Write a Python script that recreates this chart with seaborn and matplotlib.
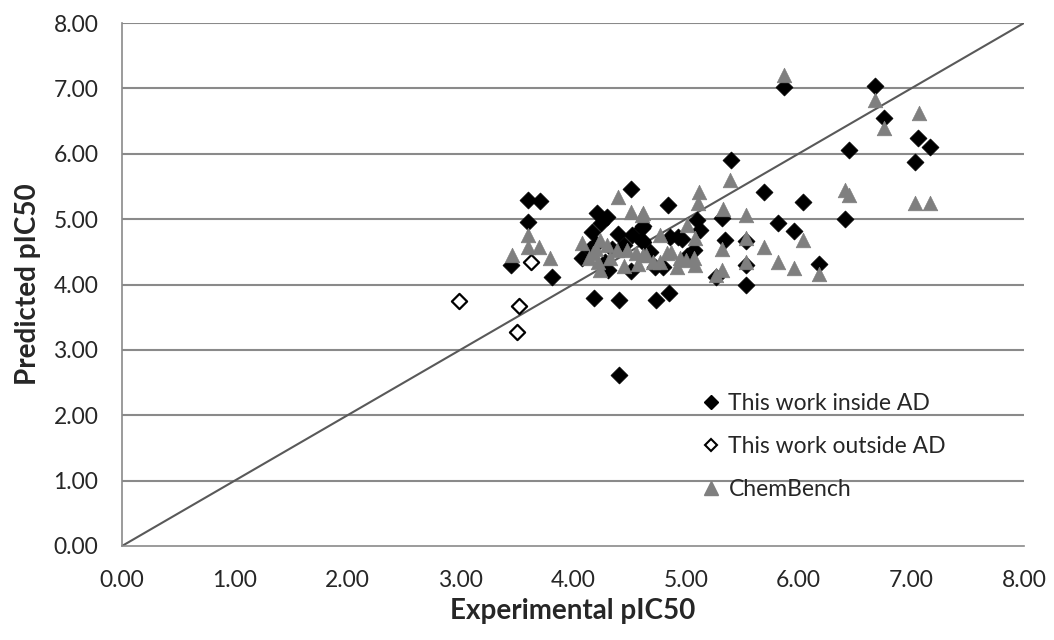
import matplotlib
matplotlib.use("Agg")
import matplotlib.pyplot as plt
import seaborn as sns
import pandas as pd
from matplotlib.lines import Line2D

# ---- data ----
inside_x = [3.45, 3.60, 3.71, 3.60, 3.81, 4.41, 4.19, 4.41, 4.74, 4.85,
            4.21, 4.30, 4.51, 4.17, 4.08, 4.40, 4.52, 4.61, 4.51, 4.31,
            4.25, 4.62, 4.84, 5.69, 5.82, 5.10, 5.13, 4.93, 4.86, 5.32,
            5.35, 5.53, 5.53, 5.53, 5.27, 5.01, 5.07, 4.62, 4.61, 4.73,
            4.80, 5.40, 5.87, 6.68, 6.76, 7.06, 7.17, 7.03, 6.45, 6.41,
            6.04, 5.96, 6.18, 4.20, 4.35, 4.45, 4.68, 4.97, 4.28, 4.15]
inside_y = [4.30, 5.30, 5.28, 4.96, 4.11, 2.62, 3.79, 3.76, 3.76, 3.87,
            5.09, 5.04, 5.46, 4.81, 4.40, 4.78, 4.76, 4.86, 4.20, 4.22,
            4.94, 4.65, 5.22, 5.42, 4.94, 4.99, 4.83, 4.73, 4.73, 5.01,
            4.68, 3.99, 4.66, 4.30, 4.12, 4.43, 4.53, 4.89, 4.68, 4.27,
            4.27, 5.91, 7.02, 7.04, 6.55, 6.24, 6.11, 5.87, 6.05, 5.00,
            5.26, 4.82, 4.31, 4.62, 4.55, 4.60, 4.50, 4.70, 4.35, 4.55]

outside_x = [2.99, 3.52, 3.50, 3.63]
outside_y = [3.75, 3.67, 3.28, 4.35]

chem_x = [3.46, 3.60, 3.60, 3.70, 3.80, 4.40, 4.51, 4.61, 4.08, 4.24,
          4.18, 4.24, 4.39, 4.48, 4.56, 4.33, 4.14, 4.65, 5.12, 5.11,
          5.39, 5.33, 5.53, 4.62, 4.77, 5.01, 5.08, 5.32, 5.53, 5.69,
          5.53, 5.32, 5.27, 5.82, 5.07, 5.08, 4.92, 4.83, 4.71, 4.87,
          4.62, 4.77, 5.87, 6.68, 6.76, 7.07, 6.41, 6.45, 7.03, 7.17,
          6.04, 5.96, 6.18, 4.22, 4.30, 4.95, 4.45, 4.20, 4.58, 5.00]
chem_y = [4.45, 4.75, 4.58, 4.58, 4.40, 5.34, 5.11, 5.06, 4.63, 4.68,
          4.48, 4.22, 4.53, 4.53, 4.48, 4.40, 4.40, 4.45, 5.42, 5.24,
          5.60, 5.16, 5.06, 5.09, 4.76, 4.91, 4.71, 4.55, 4.71, 4.58,
          4.35, 4.22, 4.15, 4.35, 4.40, 4.30, 4.27, 4.48, 4.35, 4.50,
          4.45, 4.35, 7.20, 6.82, 6.40, 6.62, 5.45, 5.37, 5.24, 5.25,
          4.68, 4.26, 4.16, 4.35, 4.60, 4.40, 4.28, 4.55, 4.32, 4.38]

labels = ["This work inside AD", "This work outside AD", "ChemBench"]
ticks = [0, 1, 2, 3, 4, 5, 6, 7, 8]

# ---- plot ----
sns.set_style("white")
plt.rcParams['font.family'] = ['Lato', 'DejaVu Sans']

fig = plt.figure(figsize=(10.54, 6.4), dpi=100)
ax = fig.add_axes([122/1054, 1-546/640, (1024-122)/1054, (546-23)/640])

for t in ticks[1:]:
    ax.axhline(t, color='#8a8a8a', lw=1.5, zorder=0)
ax.plot([0, 8], [0, 8], color='#595959', lw=1.5, zorder=1)

df_in = pd.DataFrame({"x": inside_x, "y": inside_y})
df_out = pd.DataFrame({"x": outside_x, "y": outside_y})
df_ch = pd.DataFrame({"x": chem_x, "y": chem_y})

sns.scatterplot(data=df_in, x="x", y="y", marker='D', s=75, color='black',
                edgecolor='black', linewidth=0.5, ax=ax, zorder=3)
sns.scatterplot(data=df_out, x="x", y="y", marker='D', s=60, color='white',
                edgecolor='black', linewidth=1.6, ax=ax, zorder=3)
sns.scatterplot(data=df_ch, x="x", y="y", marker='^', s=110, color='#7f7f7f',
                edgecolor='#7f7f7f', linewidth=0.5, ax=ax, zorder=4)

ax.set_xlim(0, 8)
ax.set_ylim(0, 8)
ax.set_xticks(ticks)
ax.set_yticks(ticks)
ax.set_xticklabels([f"{t:.2f}" for t in ticks], fontsize=16.5)
ax.set_yticklabels([f"{t:.2f}" for t in ticks], fontsize=16.5)
ax.set_xlabel("Experimental pIC50", fontsize=20, fontweight='bold', labelpad=5)
ax.set_ylabel("Predicted pIC50", fontsize=20, fontweight='bold', labelpad=9)

for side in ['top', 'right']:
    ax.spines[side].set_visible(False)
for side in ['left', 'bottom']:
    ax.spines[side].set_color('#8a8a8a')
    ax.spines[side].set_linewidth(1.2)
ax.tick_params(axis='both', direction='out', length=7, color='#8a8a8a',
               width=1.2, pad=10)

handles = [
    Line2D([], [], marker='D', ls='none', color='black', markersize=7),
    Line2D([], [], marker='D', ls='none', markerfacecolor='white',
           markeredgecolor='black', markeredgewidth=1.5, markersize=6.5),
    Line2D([], [], marker='^', ls='none', color='#7f7f7f', markersize=10),
]
ax.legend(handles, labels, loc='upper left', bbox_to_anchor=(0.633, 0.31),
          frameon=False, fontsize=16.5, handlelength=0.8, handletextpad=0.35,
          labelspacing=0.95, borderaxespad=0)

fig.savefig("out.png", dpi=100)
